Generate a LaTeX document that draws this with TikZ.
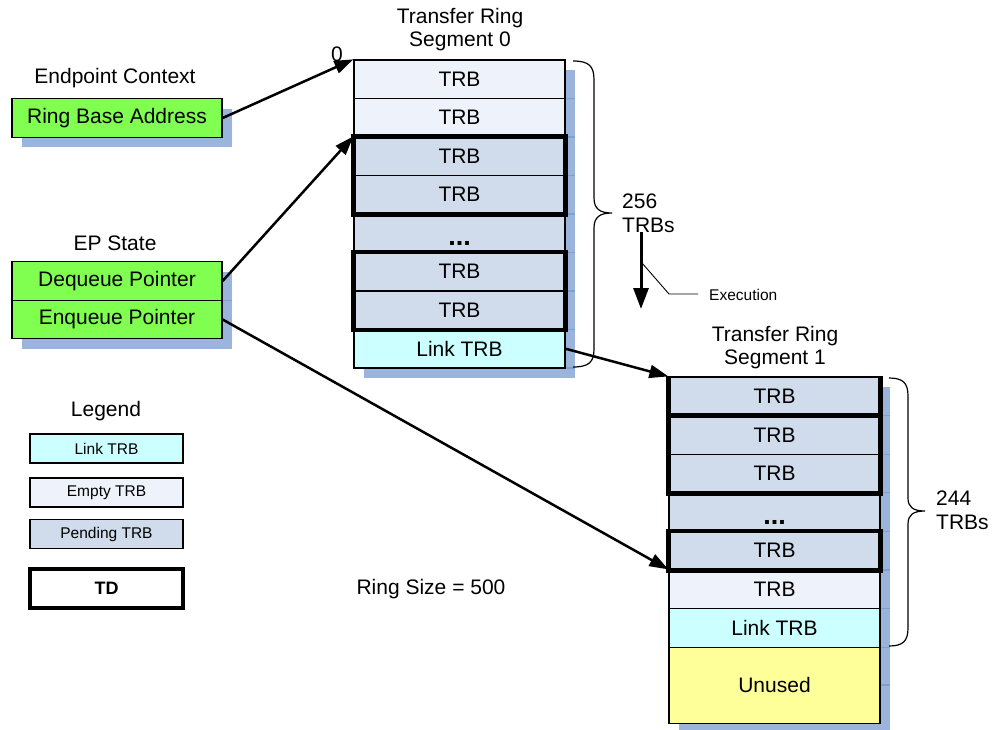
\documentclass[tikz,border=0pt]{standalone}
\usepackage{fontspec}
\setmainfont{Liberation Sans}
\usetikzlibrary{arrows.meta}
\definecolor{emptyc}{HTML}{EEF2FA}
\definecolor{pendc}{HTML}{D0DCEC}
\definecolor{linkc}{HTML}{CCFFFF}
\definecolor{unusedc}{HTML}{FFFF99}
\definecolor{greenc}{HTML}{80FF50}
\definecolor{shadowc}{HTML}{9BB4DC}
\definecolor{tickc}{HTML}{7F9FD2}
\tikzset{
  main/.style={font=\fontsize{21}{24}\selectfont},
  small/.style={font=\fontsize{15.5}{18}\selectfont},
  dotsfont/.style={font=\fontsize{27}{30}\selectfont\bfseries, inner sep=0pt, anchor=base},
  cell/.style={draw=black, line width=1.3pt, minimum width=211pt, minimum height=38.5pt, inner sep=0pt, main},
  greenbox/.style={draw=black, line width=1.3pt, fill=greenc, minimum width=210pt, minimum height=38.5pt, inner sep=0pt, main},
  legbox/.style={draw=black, line width=1.3pt, minimum width=153pt, minimum height=29pt, inner sep=0pt, small},
  tdframe/.style={draw=black, line width=4.5pt, line join=miter},
  shadowbox/.style={fill=shadowc, draw=none},
  ticks/.style={draw=tickc, line width=1.2pt},
  ptr/.style={draw=black, line width=2.5pt, -{Triangle[length=19pt,width=13pt]}},
  bracepath/.style={draw=black, line width=1.2pt},
  lbl/.style={main, inner sep=0pt}
}
\begin{document}
\begin{tikzpicture}[x=1pt,y=-1pt]
\useasboundingbox (0,0) rectangle (995,730);
% shadows
\fill[shadowbox] (22,109) rectangle (232,147);
\fill[shadowbox] (22,272) rectangle (232,349);
\fill[shadowbox] (364,70) rectangle (575,378);
\fill[shadowbox] (679,387) rectangle (890,730);
\foreach \yy in {98.5,137,175.5,214,252.5,291,329.5,368} {\draw[ticks] (565,\yy) -- (575,\yy);}
\foreach \yy in {415.6,454.2,492.8,531.4,570,608.6,647.2,685} {\draw[ticks] (880,\yy) -- (890,\yy);}
\draw[ticks] (222,300.5) -- (232,300.5);

% titles
\node[lbl] (epctx) at (115,78) {Endpoint Context};
\node[lbl] (epst) at (115,243) {EP State};
\node[lbl, align=center] (t0) at (460,30) {Transfer Ring\\[-1pt]Segment 0};
\node[lbl, align=center] (t1) at (775,348) {Transfer Ring\\[-1pt]Segment 1};
\node[lbl] (zero) at (337,54) {0};

% endpoint context / EP state boxes
\node[greenbox] (rba) at (117,118) {Ring Base Address};
\node[greenbox] (deq) at (117,281) {Dequeue Pointer};
\node[greenbox] (enq) at (117,319.5) {Enqueue Pointer};

% segment 0
\node[cell, fill=emptyc] (s0r1) at (459.5,79.25) {TRB};
\node[cell, fill=emptyc] (s0r2) at (459.5,117.75) {TRB};
\node[cell, fill=pendc] (s0r3) at (459.5,156.25) {TRB};
\node[cell, fill=pendc] (s0r4) at (459.5,194.75) {TRB};
\node[cell, fill=pendc] (s0r5) at (459.5,233.25) {};
\node[dotsfont] (s0dots) at (459.5,245) {...};
\node[cell, fill=pendc] (s0r6) at (459.5,271.75) {TRB};
\node[cell, fill=pendc] (s0r7) at (459.5,310.25) {TRB};
\node[cell, fill=linkc] (s0r8) at (459.5,348.75) {Link TRB};
\draw[tdframe] (s0r3.north west) rectangle (s0r4.south east);
\draw[tdframe] (s0r6.north west) rectangle (s0r7.south east);

% segment 1
\node[cell, fill=pendc] (s1r1) at (774.5,396.3) {TRB};
\node[cell, fill=pendc] (s1r2) at (774.5,434.9) {TRB};
\node[cell, fill=pendc] (s1r3) at (774.5,473.5) {TRB};
\node[cell, fill=pendc] (s1r4) at (774.5,512.1) {};
\node[dotsfont] (s1dots) at (774.5,524) {...};
\node[cell, fill=pendc] (s1r5) at (774.5,550.7) {TRB};
\node[cell, fill=emptyc] (s1r6) at (774.5,589.3) {TRB};
\node[cell, fill=linkc] (s1r7) at (774.5,627.9) {Link TRB};
\node[cell, fill=unusedc, minimum height=76pt] (s1r8) at (774.5,685.2) {Unused};
\draw[tdframe] (s1r1.north west) -- (s1r1.south west) -- (s1r1.south east) -- (s1r1.north east);
\draw[tdframe] (s1r2.north west) rectangle (s1r3.south east);
\draw[tdframe] (s1r5.north west) rectangle (s1r5.south east);

% braces
\draw[bracepath] (573,61) .. controls (589,61) and (594,66) .. (594,80) -- (594,198) .. controls (594,209) and (600,213) .. (612,213) .. controls (600,213) and (594,217) .. (594,228) -- (594,349) .. controls (594,362) and (589,367) .. (573,367);
\node[lbl, align=left, anchor=west] (n256) at (622,213) {256\\[0pt]TRBs};
\draw[bracepath] (889,378) .. controls (903,378) and (908,383) .. (908,396) -- (908,498) .. controls (908,507) and (913,511) .. (925,511) .. controls (913,511) and (908,515) .. (908,524) -- (908,628) .. controls (908,641) and (903,646) .. (889,646);
\node[lbl, align=left, anchor=west] (n244) at (936,510) {244\\[0pt]TRBs};

% execution arrow
\coordinate (exa) at (641,232);
\coordinate (exb) at (641,309);
\coordinate (exl1) at (642,263);
\coordinate (exl2) at (669,294);
\coordinate (exl3) at (698,294);
\draw[line width=3pt, -{Triangle[length=21pt,width=15pt]}] (exa) -- (exb);
\draw[line width=0.9pt] (exl1) -- (exl2) -- (exl3);
\node[small, anchor=west, inner sep=0pt] (exec) at (709,295) {Execution};

% pointers
\draw[ptr] (rba.east) -- (s0r1.north west);
\draw[ptr] (deq.east) -- (s0r3.north west);
\draw[ptr] (enq.east) -- (s1r6.north west);
\draw[ptr] (s0r8.east) -- (s1r1.north west);

% legend
\node[lbl] (leg) at (106,411) {Legend};
\node[legbox, fill=linkc] (lglink) at (106.5,448.5) {Link TRB};
\node[legbox, fill=emptyc] (lgempty) at (106.5,492.5) {Empty TRB};
\node[legbox, fill=pendc] (lgpend) at (106.5,534) {Pending TRB};
\node[draw=black, line width=4.5pt, fill=white, minimum width=153pt, minimum height=39pt, inner sep=0pt, font=\fontsize{18}{21}\selectfont\bfseries] (lgtd) at (106.5,588.5) {TD};

\node[lbl] (rsize) at (431,589) {Ring Size = 500};
\end{tikzpicture}
\end{document}
